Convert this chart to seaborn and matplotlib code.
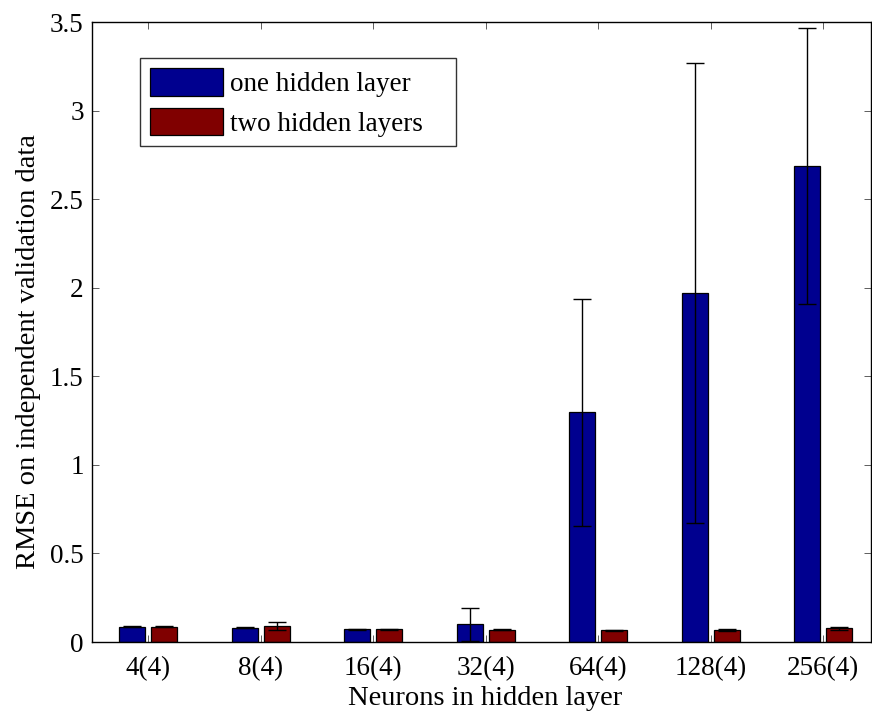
import matplotlib
matplotlib.use("Agg")
import matplotlib.pyplot as plt
import seaborn as sns
import pandas as pd
import numpy as np

# Network sizes (neurons in hidden layer) and the two architectures compared
categories = ["4(4)", "8(4)", "16(4)", "32(4)", "64(4)", "128(4)", "256(4)"]
series_names = ["one hidden layer", "two hidden layers"]

# Mean RMSE on independent validation data
rmse_one = [0.085, 0.081, 0.072, 0.10, 1.297, 1.969, 2.686]
rmse_two = [0.085, 0.089, 0.073, 0.068, 0.066, 0.068, 0.077]

# Error-bar half widths
err_one = [0.003, 0.003, 0.003, 0.094, 0.642, 1.30, 0.78]
err_two = [0.003, 0.023, 0.003, 0.003, 0.004, 0.007, 0.007]

y_ticks = [0, 0.5, 1, 1.5, 2, 2.5, 3, 3.5]
y_tick_labels = ["0", "0.5", "1", "1.5", "2", "2.5", "3", "3.5"]

df = pd.DataFrame({
    "size": categories * 2,
    "arch": [series_names[0]] * len(categories) + [series_names[1]] * len(categories),
    "rmse": rmse_one + rmse_two,
})

sns.set_theme(style="white")
plt.rcParams["font.family"] = ["Liberation Serif", "DejaVu Serif"]
plt.rcParams["text.color"] = "black"
plt.rcParams["axes.labelcolor"] = "black"
plt.rcParams["xtick.color"] = "black"
plt.rcParams["ytick.color"] = "black"

FS = 19.5
LFS = 20.5
fig = plt.figure(figsize=(8.72, 7.15), dpi=100)
ax = fig.add_axes([92 / 872, 73 / 715, 779 / 872, 620 / 715])

colors = ["#00008F", "#800000"]
sns.barplot(data=df, x="size", y="rmse", hue="arch", hue_order=series_names,
            order=categories, palette=colors, errorbar=None, width=0.57,
            gap=0.19, edgecolor="black", linewidth=0.9, saturation=1, ax=ax)

# Error bars placed on the centres of the drawn bars
for container, errs in zip(ax.containers, [err_one, err_two]):
    xs = [p.get_x() + p.get_width() / 2 for p in container.patches]
    hs = [p.get_height() for p in container.patches]
    ax.errorbar(xs, hs, yerr=errs, fmt="none", ecolor="black",
                elinewidth=1.0, capsize=6.5, capthick=1.0, zorder=5)

ax.set_xlim(-0.5, 6.424)
ax.set_ylim(0, 3.5)
ax.set_yticks(y_ticks)
ax.set_yticklabels(y_tick_labels)
ax.set_xlabel("Neurons in hidden layer", fontsize=LFS, labelpad=3)
ax.set_ylabel("RMSE on independent validation data", fontsize=LFS, labelpad=6)
ax.xaxis.label.set_x(0.505)
ax.yaxis.label.set_y(0.468)

for s in ax.spines.values():
    s.set_visible(True)
    s.set_color("black")
    s.set_linewidth(1.0)

ax.tick_params(axis="both", which="major", direction="in", length=5, width=0.6,
               color="#444444", labelsize=FS, labelcolor="black",
               top=True, right=True, bottom=True, left=True)
ax.tick_params(axis="x", pad=10.5)
ax.tick_params(axis="y", pad=6)

# Legend box spans a fixed width, leaving blank room to the right of the labels
leg = ax.legend(loc="upper left",
                bbox_to_anchor=(48 / 779, 584 / 620, 316 / 779, 0.0),
                mode="expand", borderaxespad=0, fontsize=FS, frameon=True,
                fancybox=False, edgecolor="black", handlelength=2.7,
                handleheight=1.2, handletextpad=0.25, labelspacing=0.4,
                borderpad=0.36)
leg.get_frame().set_linewidth(1.0)
leg.get_frame().set_facecolor("white")
for h in leg.legend_handles:
    h.set_edgecolor("black")
    h.set_linewidth(0.9)

fig.savefig("out.png", dpi=100, facecolor="white")
